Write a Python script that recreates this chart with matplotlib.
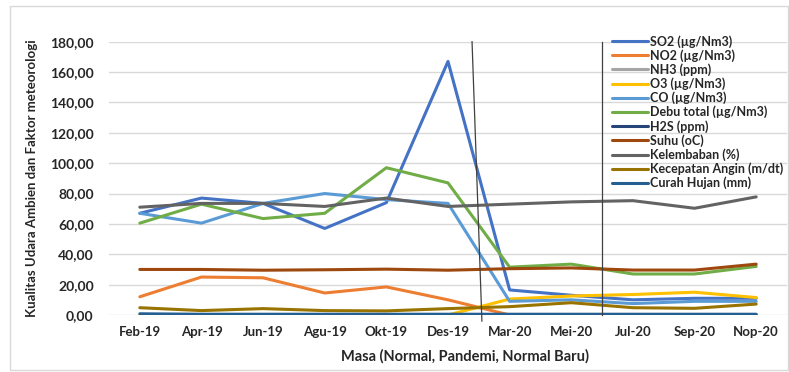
import matplotlib
matplotlib.use("Agg")
import matplotlib.pyplot as plt
from matplotlib.patches import Rectangle
from matplotlib.ticker import FuncFormatter

plt.rcParams['font.family'] = ['Lato', 'DejaVu Sans']

months = ["Feb-19", "Apr-19", "Jun-19", "Agu-19", "Okt-19", "Des-19",
          "Mar-20", "Mei-20", "Jul-20", "Sep-20", "Nop-20"]

so2 = [67.0, 77.0, 73.5, 57.0, 74.0, 167.0, 16.5, 13.0, 10.0, 11.0, 11.0]
no2 = [12.0, 25.0, 24.5, 14.5, 18.5, 10.0, 0.0, 0.0, 0.0, 0.0, 0.0]
nh3 = [0.3, 0.3, 0.3, 0.3, 0.3, 0.3, 0.3, 0.3, 0.3, 0.3, 0.3]
o3 = [0.0, 0.0, 0.0, 0.0, 0.0, 0.0, 10.5, 12.5, 13.5, 15.0, 11.5]
co = [67.0, 60.5, 73.5, 80.0, 76.0, 73.5, 9.0, 10.0, 7.5, 9.0, 9.0]
debu = [60.5, 73.0, 63.5, 67.0, 97.0, 87.0, 31.5, 33.5, 27.0, 27.0, 32.0]
h2s = [0.2, 0.2, 0.2, 0.2, 0.2, 0.2, 0.2, 0.2, 0.2, 0.2, 0.2]
suhu = [30.0, 30.0, 29.5, 29.8, 30.2, 29.5, 30.5, 31.0, 29.6, 29.6, 33.5]
kelembaban = [71.0, 73.5, 73.5, 71.5, 77.0, 71.5, 73.0, 74.5, 75.3, 70.3, 77.8]
angin = [4.8, 2.9, 4.2, 2.9, 2.7, 4.2, 5.5, 8.1, 4.8, 4.4, 7.2]
hujan = [0.8, 0.5, 0.5, 0.5, 0.5, 0.5, 0.5, 0.5, 0.5, 0.5, 0.5]

series = [
    ("SO2 (\u00b5g/Nm3)", so2, "#4472C4"),
    ("NO2 (\u00b5g/Nm3)", no2, "#ED7D31"),
    ("NH3 (ppm)", nh3, "#A5A5A5"),
    ("O3 (\u00b5g/Nm3)", o3, "#FFC000"),
    ("CO (\u00b5g/Nm3)", co, "#5B9BD5"),
    ("Debu total (\u00b5g/Nm3)", debu, "#70AD47"),
    ("H2S (ppm)", h2s, "#264478"),
    ("Suhu (oC)", suhu, "#9E480E"),
    ("Kelembaban (%)", kelembaban, "#636363"),
    ("Kecepatan Angin (m/dt)", angin, "#997300"),
    ("Curah Hujan (mm)", hujan, "#255E91"),
]

fig = plt.figure(figsize=(7.89, 3.72), dpi=100)
ax = fig.add_axes([109 / 789, 1 - 315 / 372, (787 - 109) / 789, (315 - 41.7) / 372])

x = list(range(len(months)))
for name, vals, col in series:
    ax.plot(x, vals, color=col, lw=2.2, label=name, solid_capstyle='round')

ax.set_xlim(-0.5, 10.5)
ax.set_ylim(0, 180)
ax.set_yticks(range(0, 181, 20))
ax.yaxis.set_major_formatter(FuncFormatter(lambda v, p: f"{v:.2f}".replace(".", ",")))
ax.set_xticks(x)
ax.set_xticklabels(months)
ax.grid(axis='y', color='#D9D9D9', lw=1)
ax.set_axisbelow(True)
for s in ax.spines.values():
    s.set_visible(False)
ax.tick_params(axis='y', length=0, labelsize=10, pad=11)
ax.tick_params(axis='x', length=0, labelsize=9.5, pad=8)
for lab in ax.get_xticklabels() + ax.get_yticklabels():
    lab.set_fontweight('bold')
    lab.set_color('#262626')

ax.set_xlabel("Masa (Normal, Pandemi, Normal Baru)", fontsize=10.5, fontweight='bold',
              color='#262626')
ax.xaxis.set_label_coords(0.525, -0.125)
ax.set_ylabel("Kualitas Udara Ambien dan Faktor meteorologi", fontsize=9.5,
              fontweight='bold', color='#262626')
ax.yaxis.set_label_coords(-0.105, 0.5)

# period separator lines
ax.plot([5.39, 5.55], [180, -4], color='#404040', lw=0.9, clip_on=False)
ax.plot([7.5, 7.5], [180, 0], color='#404040', lw=0.9, clip_on=False)

leg = ax.legend(loc='upper left', bbox_to_anchor=(0.742, 1.025), frameon=False,
                fontsize=9, handlelength=2.9, handletextpad=0.15,
                labelspacing=0.12, borderaxespad=0, borderpad=0)
for t in leg.get_texts():
    t.set_fontweight('bold')
    t.set_color('#262626')

fig.patches.append(Rectangle((10 / 789, 2 / 372), 0.999 - 10 / 789, 1 - 8 / 372,
                             transform=fig.transFigure, fill=False,
                             edgecolor='#D9D9D9', lw=1))

fig.savefig("out.png", dpi=100)
